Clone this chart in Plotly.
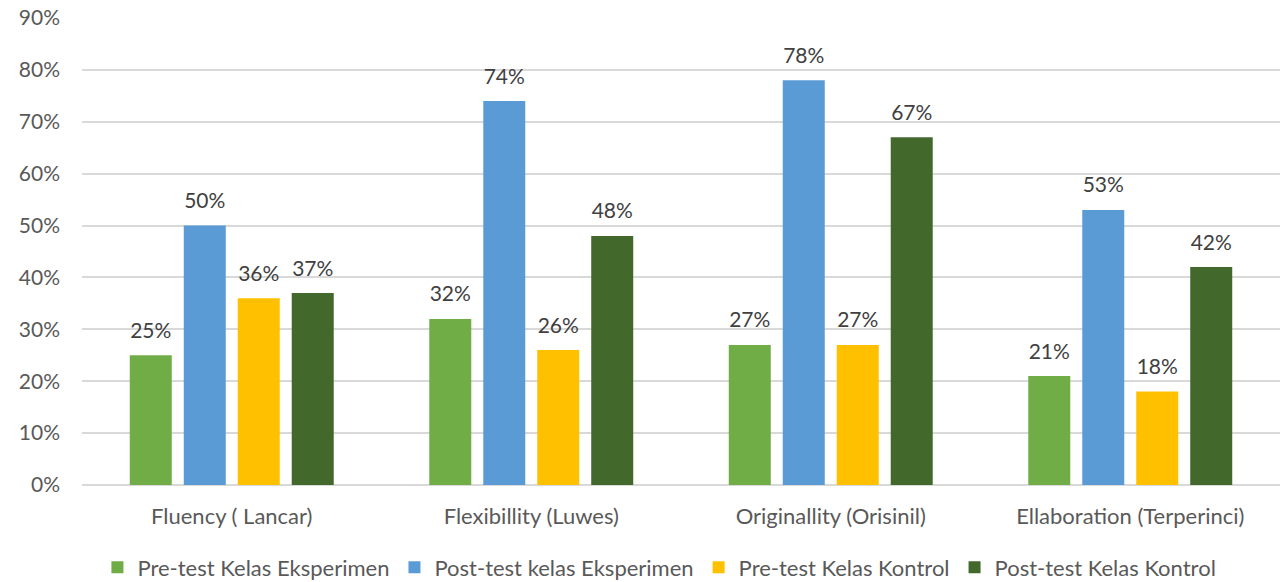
import plotly.graph_objects as go

categories = ["Fluency ( Lancar)", "Flexibillity (Luwes)", "Originallity (Orisinil)", "Ellaboration (Terperinci)"]
series_names = ["Pre-test Kelas Eksperimen", "Post-test kelas Eksperimen", "Pre-test Kelas Kontrol", "Post-test Kelas Kontrol"]
pre_eksperimen = [0.25, 0.32, 0.27, 0.21]
post_eksperimen = [0.50, 0.74, 0.78, 0.53]
pre_kontrol = [0.36, 0.26, 0.27, 0.18]
post_kontrol = [0.37, 0.48, 0.67, 0.42]
colors = ["#70AD47", "#5B9BD5", "#FFC000", "#43682B"]

FONT = "Lato, Open Sans, sans-serif"
all_series = [pre_eksperimen, post_eksperimen, pre_kontrol, post_kontrol]

fig = go.Figure()
for i, (name, vals, c) in enumerate(zip(series_names, all_series, colors)):
    fig.add_trace(go.Bar(
        x=categories, y=vals, name=name, marker_color=c, marker_line_width=0,
        offsetgroup=str(i),
    ))
for i, vals in enumerate(all_series):
    fig.add_trace(go.Scatter(
        x=categories, y=vals, mode="markers+text", showlegend=False,
        offsetgroup=str(i), hoverinfo="skip",
        marker=dict(size=18, opacity=0),
        text=[f"{round(v*100)}%" for v in vals], textposition="top center",
        textfont=dict(size=21, color="#404040", family=FONT), cliponaxis=False,
    ))

fig.update_layout(
    width=1286, height=582,
    margin=dict(l=82, r=6, t=18, b=97, autoexpand=False),
    paper_bgcolor="white", plot_bgcolor="white",
    barmode="group", bargap=0.279, bargroupgap=0.222,
    scattermode="group", scattergap=0.279,
    font=dict(family=FONT, color="#595959", size=21),
    legend=dict(orientation="h", x=0.482, xanchor="center", y=0.025, yanchor="middle",
                yref="container", font=dict(size=22, color="#595959", family=FONT),
                traceorder="normal", itemwidth=30),
    showlegend=True,
)
fig.update_yaxes(range=[0, 0.9], dtick=0.1, tickformat=".0%", gridcolor="#D9D9D9",
                 gridwidth=1.5, zeroline=True, zerolinecolor="#D9D9D9", zerolinewidth=1.5,
                 tickfont=dict(size=21, color="#595959", family=FONT), ticks="",
                 ticklabelstandoff=21)
fig.update_xaxes(showline=False, tickfont=dict(size=22, color="#595959", family=FONT), ticks="",
                 ticklabelstandoff=16)

fig.write_html("out.html")
